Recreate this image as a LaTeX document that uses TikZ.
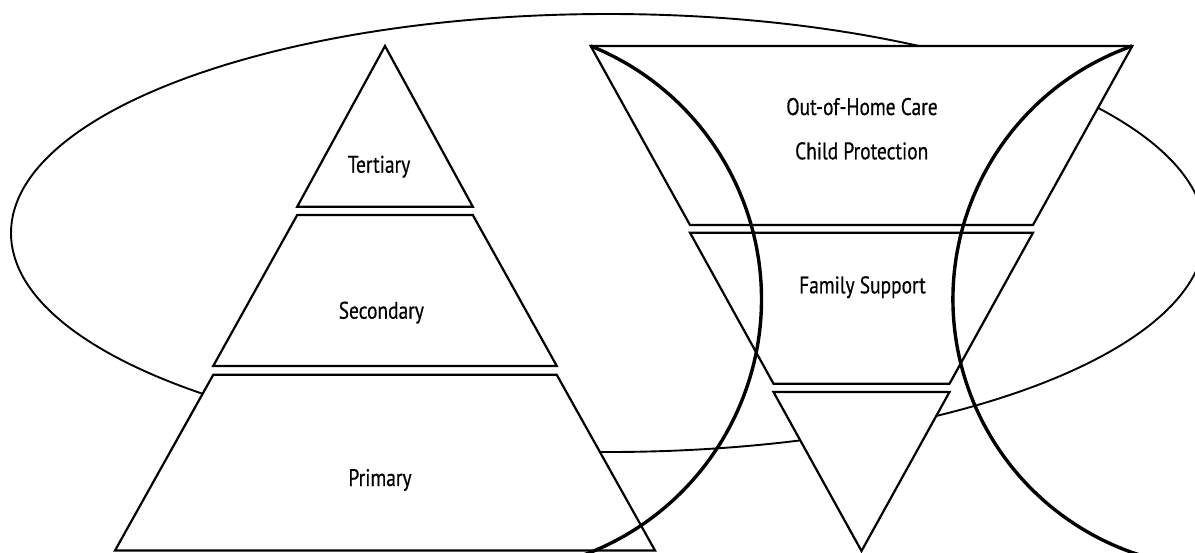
\documentclass[tikz,border=0pt]{standalone}
\usepackage{fontspec}
\setmainfont{PT Sans}[FakeStretch=0.81, FakeBold=0.5]
\begin{document}
\begin{tikzpicture}[x=1pt,y=-1pt,
  piece/.style={draw=black, line width=2.2pt, fill=white, line join=miter},
  ring/.style={draw=black, line width=3.4pt},
  oval/.style={draw=black, line width=1.9pt},
  lbl/.style={font=\fontsize{24}{28}\selectfont, anchor=base, inner sep=0pt}]
\useasboundingbox (0,0) rectangle (1195,552);
\clip (0,0) rectangle (1195,552);
% big ellipse behind everything
\draw[oval] (608,233) ellipse [x radius=597, y radius=219];
% left pyramid
\path[piece] (385,46) -- (472.8,206.7) -- (297.2,206.7) -- cycle;
\path[piece] (297.2,215) -- (472.8,215) -- (556.8,366) -- (213.2,366) -- cycle;
\path[piece] (213.3,374.7) -- (556.7,374.7) -- (655,550.5) -- (115,550.5) -- cycle;
% right inverted pyramid
\coordinate (RTL) at (590.7,46);
\coordinate (RTR) at (1132.3,46);
\path[piece] (RTL) -- (RTR) -- (1033,225) -- (690,225) -- cycle;
\path[piece] (690,232.7) -- (1033,232.7) -- (949.5,383.7) -- (773.5,383.7) -- cycle;
\path[piece] (773.5,392) -- (949.5,392) -- (861.5,551) -- cycle;
% labels
\node[lbl] (tert) at (379,172.7) {Tertiary};
\node[lbl] (sec) at (381.3,318.7) {Secondary};
\node[lbl] (prim) at (380,486) {Primary};
\node[lbl] (ohc) at (862,115) {Out-of-Home Care};
\node[lbl] (cp) at (861.7,159.3) {Child Protection};
\node[lbl] (fs) at (862.5,293.3) {Family Support};
% circle arcs on top
\draw[ring] (RTL) arc[start angle=-68, end angle=75, radius=273];
\draw[ring] (RTR) arc[start angle=250.6, end angle=100, radius=268.5];
\end{tikzpicture}
\end{document}
